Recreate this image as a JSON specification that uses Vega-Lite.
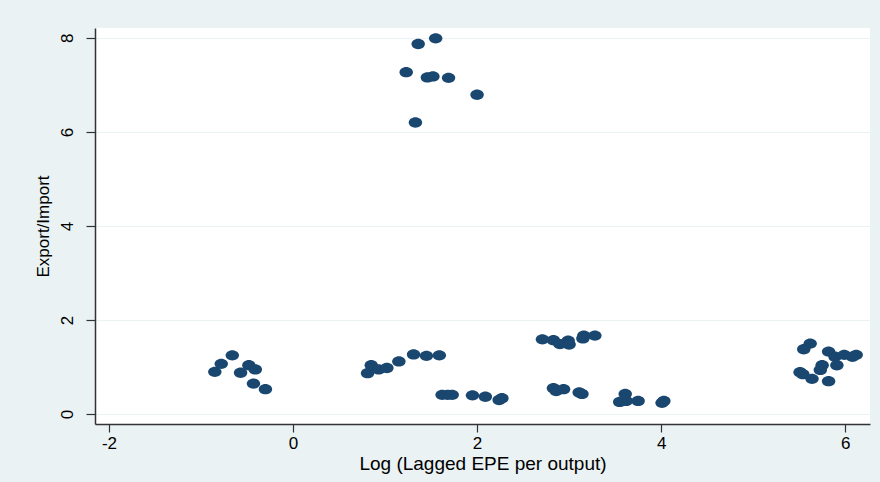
{
  "$schema": "https://vega.github.io/schema/vega-lite/v6.json",
  "width": 775,
  "height": 396,
  "autosize": {"type": "none"},
  "padding": {"left": 95, "top": 28, "right": 10, "bottom": 58},
  "background": "#eaf2f3",
  "config": {
    "font": "Liberation Sans",
    "view": {"fill": "white", "stroke": null}
  },
  "data": {
    "values": [
      {"lepe": 1.55, "ratio": 7.99},
      {"lepe": 1.36, "ratio": 7.87},
      {"lepe": 1.23, "ratio": 7.27},
      {"lepe": 1.46, "ratio": 7.16},
      {"lepe": 1.52, "ratio": 7.18},
      {"lepe": 1.69, "ratio": 7.15},
      {"lepe": 2.0, "ratio": 6.79},
      {"lepe": 1.33, "ratio": 6.2},
      {"lepe": -0.85, "ratio": 0.9},
      {"lepe": -0.78, "ratio": 1.07},
      {"lepe": -0.66, "ratio": 1.25},
      {"lepe": -0.57, "ratio": 0.88},
      {"lepe": -0.48, "ratio": 1.04},
      {"lepe": -0.41, "ratio": 0.95},
      {"lepe": -0.43, "ratio": 0.65},
      {"lepe": -0.3, "ratio": 0.53},
      {"lepe": 0.81, "ratio": 0.87},
      {"lepe": 0.85, "ratio": 1.04},
      {"lepe": 0.93, "ratio": 0.95},
      {"lepe": 1.02, "ratio": 0.98},
      {"lepe": 1.15, "ratio": 1.12},
      {"lepe": 1.31, "ratio": 1.27},
      {"lepe": 1.45, "ratio": 1.24},
      {"lepe": 1.59, "ratio": 1.25},
      {"lepe": 1.62, "ratio": 0.41},
      {"lepe": 1.68, "ratio": 0.41},
      {"lepe": 1.73, "ratio": 0.41},
      {"lepe": 1.95, "ratio": 0.4},
      {"lepe": 2.09, "ratio": 0.37},
      {"lepe": 2.27, "ratio": 0.34},
      {"lepe": 2.24, "ratio": 0.3},
      {"lepe": 2.71, "ratio": 1.59},
      {"lepe": 2.83, "ratio": 1.57},
      {"lepe": 2.9, "ratio": 1.49},
      {"lepe": 2.99, "ratio": 1.56},
      {"lepe": 3.0, "ratio": 1.48},
      {"lepe": 3.16, "ratio": 1.67},
      {"lepe": 3.15, "ratio": 1.61},
      {"lepe": 3.28, "ratio": 1.67},
      {"lepe": 2.83, "ratio": 0.55},
      {"lepe": 2.86, "ratio": 0.49},
      {"lepe": 2.94, "ratio": 0.53},
      {"lepe": 3.11, "ratio": 0.46},
      {"lepe": 3.14, "ratio": 0.43},
      {"lepe": 3.61, "ratio": 0.43},
      {"lepe": 3.55, "ratio": 0.26},
      {"lepe": 3.62, "ratio": 0.28},
      {"lepe": 3.75, "ratio": 0.28},
      {"lepe": 4.03, "ratio": 0.28},
      {"lepe": 4.01, "ratio": 0.24},
      {"lepe": 5.62, "ratio": 1.5},
      {"lepe": 5.55, "ratio": 1.38},
      {"lepe": 5.82, "ratio": 1.33},
      {"lepe": 5.89, "ratio": 1.22},
      {"lepe": 5.99, "ratio": 1.26},
      {"lepe": 6.12, "ratio": 1.26},
      {"lepe": 6.08, "ratio": 1.22},
      {"lepe": 5.75, "ratio": 1.04},
      {"lepe": 5.73, "ratio": 0.94},
      {"lepe": 5.91, "ratio": 1.04},
      {"lepe": 5.51, "ratio": 0.89},
      {"lepe": 5.54, "ratio": 0.85},
      {"lepe": 5.64, "ratio": 0.75},
      {"lepe": 5.82, "ratio": 0.7}
    ]
  },
  "mark": {
    "type": "point",
    "filled": true,
    "opacity": 1,
    "color": "#1a476f",
    "size": 180,
    "shape": "M-1,0A1,0.77,0,1,1,1,0A1,0.77,0,1,1,-1,0Z"
  },
  "encoding": {
    "x": {
      "field": "lepe",
      "type": "quantitative",
      "scale": {"domain": [-2.152, 6.27], "nice": false, "zero": false},
      "axis": {
        "title": "Log (Lagged EPE per output)",
        "titleFontSize": 19,
        "titleFontWeight": "normal",
        "titleColor": "black",
        "titlePadding": 3,
        "values": [-2, 0, 2, 4, 6],
        "labelExpr": "datum.value < 0 ? '-' + format(-datum.value, 'd') : datum.label",
        "labelFontSize": 17,
        "labelColor": "black",
        "labelPadding": 3,
        "tickSize": 8,
        "tickColor": "#333",
        "tickWidth": 1.2,
        "domainColor": "#333",
        "domainWidth": 1.5,
        "grid": false
      }
    },
    "y": {
      "field": "ratio",
      "type": "quantitative",
      "scale": {"domain": [-0.21, 8.21], "nice": false, "zero": false},
      "axis": {
        "title": "Export/Import",
        "titleFontSize": 17,
        "titleFontWeight": "normal",
        "titleColor": "black",
        "titlePadding": 6,
        "values": [0, 2, 4, 6, 8],
        "labelAngle": 270,
        "labelAlign": "center",
        "labelBaseline": "bottom",
        "labelFontSize": 17,
        "labelColor": "black",
        "labelPadding": 10,
        "tickSize": 9,
        "tickColor": "#333",
        "tickWidth": 1.2,
        "domainColor": "#333",
        "domainWidth": 1.5,
        "grid": true,
        "gridColor": "#eaf2f3",
        "gridWidth": 1.2
      }
    }
  }
}
